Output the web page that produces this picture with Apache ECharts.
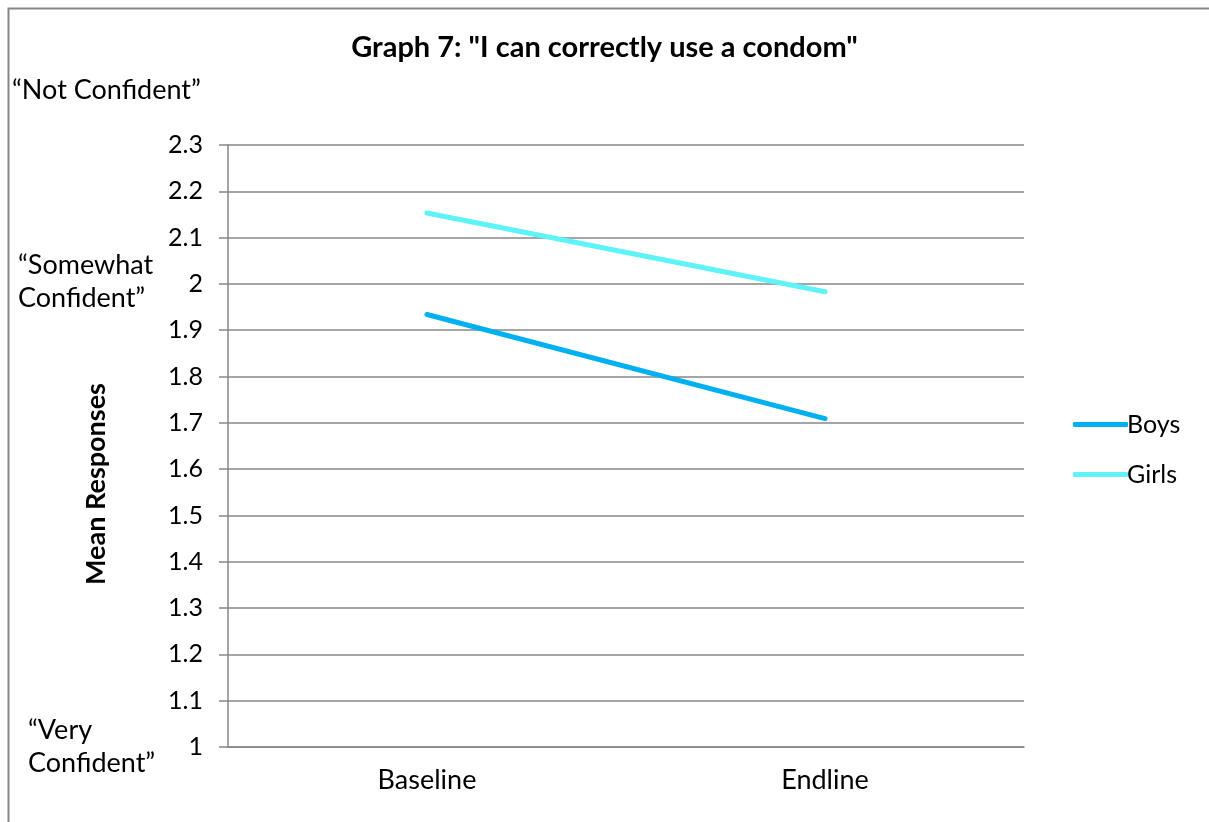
<!DOCTYPE html>
<html>
<head>
<meta charset="utf-8">
<title>Graph 7</title>
<script src="https://cdn.jsdelivr.net/npm/echarts@6/dist/echarts.min.js"></script>
<style>
  html, body { margin: 0; padding: 0; background: #ffffff; }
  #chart { width: 1209px; height: 822px; }
</style>
</head>
<body>
<div id="chart"></div>
<script>
// Survey waves and mean responses per group
const categories = ['Baseline', 'Endline'];
const boys = [1.934, 1.709];
const girls = [2.153, 1.983];
const yMin = 1;
const yMax = 2.3;
const yStep = 0.1;

const FONT = 'Lato, "Open Sans", sans-serif';
const GRAY = '#878787';
const SIZE = 25;
const NOTE_SIZE = 27;

const chart = echarts.init(document.getElementById('chart'), null, { renderer: 'canvas' });

const scaleText = (text, x, y) => ({
  type: 'text',
  left: x,
  top: y,
  style: { text: text, font: '400 ' + NOTE_SIZE + 'px ' + FONT, fill: '#000000', lineHeight: 33 }
});

chart.setOption({
  backgroundColor: '#ffffff',
  animation: false,
  title: {
    text: 'Graph 7: "I can correctly use a condom"',
    left: 'center',
    top: 28,
    textStyle: { fontFamily: FONT, fontWeight: 'bold', fontSize: 29, color: '#000000' }
  },
  grid: { left: 228, right: 185, top: 145, bottom: 75, containLabel: false },
  legend: {
    orient: 'vertical',
    left: 1068,
    top: 407,
    itemWidth: 55,
    itemHeight: 5,
    itemGap: 25,
    icon: 'roundRect',
    textStyle: { fontFamily: FONT, fontSize: SIZE, color: '#000000', padding: [0, 0, 0, -6] },
    data: ['Boys', 'Girls']
  },
  xAxis: {
    type: 'category',
    data: categories,
    boundaryGap: true,
    axisLine: { lineStyle: { color: GRAY, width: 1.5 } },
    axisTick: { show: false },
    axisLabel: { fontFamily: FONT, fontSize: 27, color: '#000000', margin: 20 }
  },
  yAxis: {
    type: 'value',
    min: yMin,
    max: yMax,
    interval: yStep,
    axisLine: { show: true, lineStyle: { color: GRAY, width: 1.5 } },
    axisTick: { show: true, inside: false, length: 9, lineStyle: { color: GRAY, width: 1.5 } },
    axisLabel: {
      fontFamily: FONT, fontSize: SIZE, color: '#000000', margin: 25,
      formatter: v => String(Math.round(v * 10) / 10)
    },
    splitLine: { show: true, lineStyle: { color: GRAY, width: 1.5 } }
  },
  series: [
    {
      name: 'Boys',
      type: 'line',
      data: boys,
      symbol: 'none',
      lineStyle: { color: '#00B0F0', width: 5, cap: 'round' },
      itemStyle: { color: '#00B0F0' }
    },
    {
      name: 'Girls',
      type: 'line',
      data: girls,
      symbol: 'none',
      lineStyle: { color: '#5FF3F7', width: 5, cap: 'round' },
      itemStyle: { color: '#5FF3F7' }
    }
  ],
  graphic: [
    {
      type: 'rect',
      left: 6,
      top: 6,
      shape: { width: 1240, height: 860 },
      style: { fill: 'none', stroke: GRAY, lineWidth: 2 },
      silent: true
    },
    {
      type: 'text',
      x: 96,
      y: 484,
      rotation: Math.PI / 2,
      style: {
        text: 'Mean Responses',
        font: 'bold 27px ' + FONT,
        fill: '#000000',
        align: 'center',
        verticalAlign: 'middle'
      }
    },
    scaleText('\u201CNot Confident\u201D', 12, 74),
    scaleText('\u201CSomewhat\nConfident\u201D', 18, 249),
    scaleText('\u201CVery\nConfident\u201D', 28, 714)
  ]
});
</script>
</body>
</html>
